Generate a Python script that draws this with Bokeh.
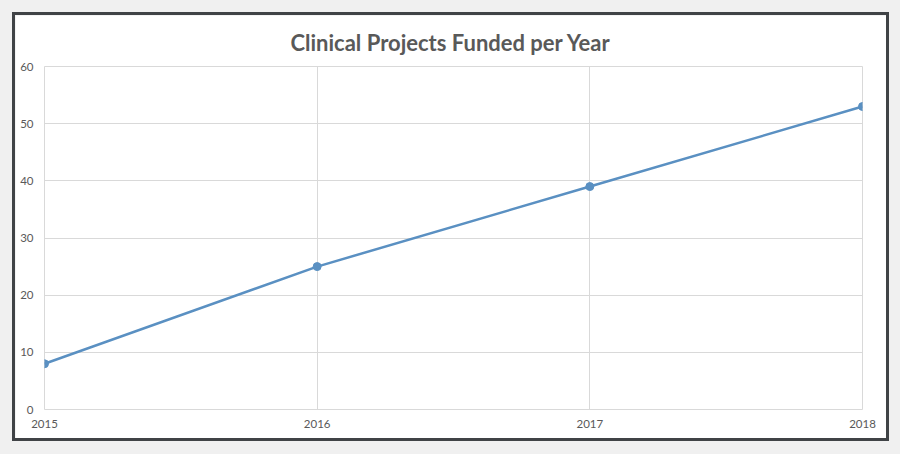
from bokeh.plotting import figure
from bokeh.layouts import column
from bokeh.models import FixedTicker, Range1d
from bokeh.embed import file_html
from bokeh.resources import INLINE

# Data
years = [2015, 2016, 2017, 2018]
projects = [8, 25, 39, 53]
y_ticks = [0, 10, 20, 30, 40, 50, 60]
title_text = "Clinical Projects Funded per Year"

FONT = "Lato"
TEXT_COLOR = "#595959"
GRID = "#d9d9d9"
LINE = "#5a90c2"
OUTER = "#f0f0f0"

fig = figure(width=877, height=429, output_backend="svg", toolbar_location=None,
             x_range=Range1d(2015, 2018), y_range=Range1d(0, 60),
             title=title_text,
             min_border_left=29, min_border_right=30,
             min_border_top=51, min_border_bottom=35,
             styles={"border": "3px solid #404346", "box-sizing": "border-box"})

fig.border_fill_color = "white"
fig.background_fill_color = "white"
fig.outline_line_color = GRID
fig.outline_line_width = 1

fig.title.text_font = FONT
fig.title.text_font_size = "22px"
fig.title.text_font_style = "bold"
fig.title.text_color = TEXT_COLOR
fig.title.align = "left"
fig.title.offset = 246
fig.title.standoff = 22

fig.xaxis.ticker = FixedTicker(ticks=years)
fig.yaxis.ticker = FixedTicker(ticks=y_ticks)
for ax in (fig.xaxis, fig.yaxis):
    ax.axis_line_color = None
    ax.major_tick_line_color = None
    ax.minor_tick_line_color = None
    ax.major_tick_out = 0
    ax.major_tick_in = 0
    ax.minor_tick_out = 0
    ax.minor_tick_in = 0
    ax.major_label_text_font = FONT
    ax.major_label_text_font_size = "11.5px"
    ax.major_label_text_color = TEXT_COLOR
fig.yaxis.major_label_standoff = 11
fig.xaxis.major_label_standoff = 10

fig.xgrid.grid_line_color = GRID
fig.ygrid.grid_line_color = GRID
fig.xgrid.grid_line_width = 1
fig.ygrid.grid_line_width = 1

fig.line(years, projects, line_color=LINE, line_width=2.5)
fig.scatter(years, projects, size=8, fill_color=LINE, line_color=LINE)

p = column(fig, styles={"background-color": OUTER,
                        "padding": "12px 11px 13px 12px"})

open("out.html", "w").write(file_html(p, INLINE))
